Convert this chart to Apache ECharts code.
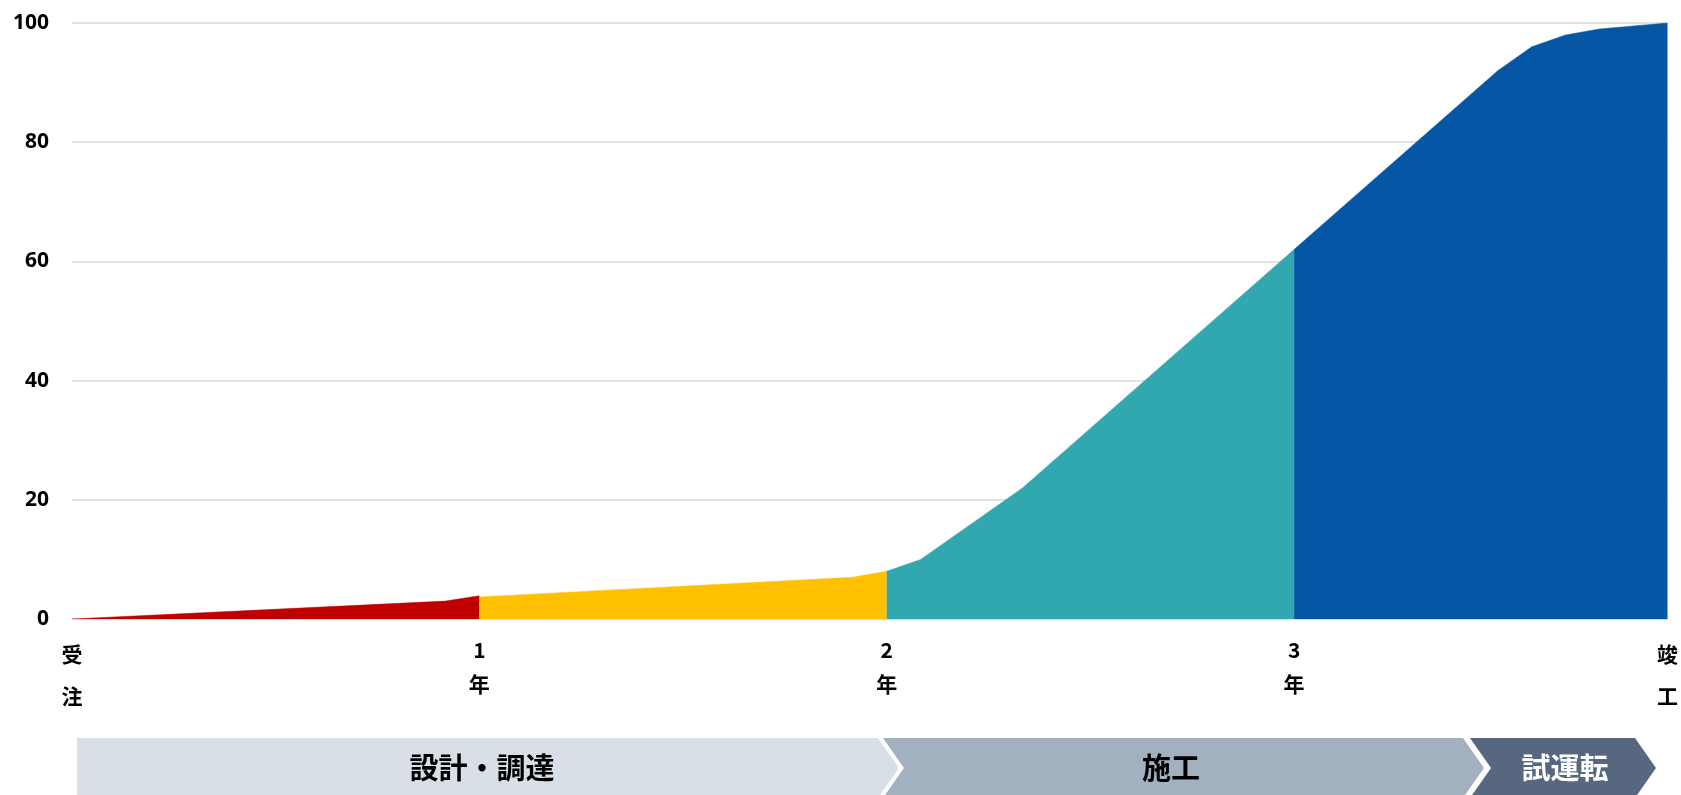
<!DOCTYPE html>
<html>
<head>
<meta charset="utf-8">
<script src="https://cdn.jsdelivr.net/npm/echarts@6/dist/echarts.min.js"></script>
<style>
  html, body { margin: 0; padding: 0; background: #ffffff; }
  #chart { width: 1681px; height: 795px; }
</style>
</head>
<body>
<div id="chart"></div>
<script>
// ---- data (x = months since order, y = cumulative progress %) ----
const redX = [0, 11, 12];
const redY = [0, 3, 3.9];
const yellowX = [12, 23, 24];
const yellowY = [3.7, 7, 8];
const tealX = [24, 25, 28, 36];
const tealY = [8, 10, 22, 62];
const blueX = [36, 42, 43, 44, 45, 47];
const blueY = [62, 92, 96, 98, 99, 100];

const tickValues = [0, 12, 24, 36, 47];
const tickLabels = ['受\n注', '1\n年', '2\n年', '3\n年', '竣\n工'];
const phaseNames = ['設計・調達', '施工', '試運転'];

const colors = ['#C00000', '#FFC000', '#31A8B0', '#0556A5'];
const phaseColors = ['#D9DFE7', '#A2B0C0', '#56677F'];
const phaseTextColors = ['#000000', '#000000', '#ffffff'];

function pairs(xs, ys) { return xs.map((x, i) => [x, ys[i]]); }

const chart = echarts.init(document.getElementById('chart'), null, { renderer: 'canvas' });

function areaSeries(xs, ys, color) {
  return {
    type: 'line',
    data: pairs(xs, ys),
    symbol: 'none',
    lineStyle: { width: 0.5, color: color },
    areaStyle: { color: color, opacity: 1 },
    itemStyle: { color: color },
    animation: false,
    silent: true
  };
}

// phase band geometry (layout)
const bandTop = 738, bandMid = 768, bandBot = 798;
const segs = [
  { x0: 77, x1: 878, notch: false, tx: 482 },
  { x0: 883, x1: 1463, notch: true, tx: 1171 },
  { x0: 1470, x1: 1635, notch: true, tx: 1565 }
];
const tip = 21;
const graphics = [];
segs.forEach((s, i) => {
  const pts = [[s.x0, bandTop], [s.x1, bandTop], [s.x1 + tip, bandMid], [s.x1, bandBot], [s.x0, bandBot]];
  if (s.notch) pts.push([s.x0 + tip, bandMid]);
  graphics.push({
    type: 'polygon',
    shape: { points: pts },
    style: { fill: phaseColors[i] },
    silent: true
  });
  graphics.push({
    type: 'text',
    x: s.tx,
    y: bandMid,
    style: {
      text: phaseNames[i],
      fill: phaseTextColors[i],
      font: 'bold 29px "Noto Sans CJK JP", sans-serif',
      textAlign: 'center',
      textVerticalAlign: 'middle'
    },
    silent: true
  });
});

const option = {
  animation: false,
  backgroundColor: '#ffffff',
  grid: { left: 72, right: 13, top: 23, bottom: 176 },
  xAxis: {
    type: 'value',
    min: 0,
    max: 47,
    axisLine: { show: true, lineStyle: { color: '#D9D9D9', width: 1.5 } },
    axisTick: { show: false },
    splitLine: { show: false },
    axisLabel: {
      customValues: tickValues,
      margin: 14,
      formatter: function (v) {
        const i = tickValues.indexOf(v);
        if (i < 0) return '';
        const parts = tickLabels[i].split('\n');
        const style = (i === 0 || i === tickValues.length - 1) ? 'k' : 'y';
        return parts.map(p => '{' + style + '|' + p + '}').join('\n');
      },
      rich: {
        k: { fontSize: 21, fontWeight: 'bold', color: '#000', lineHeight: 42, fontFamily: '"Noto Sans CJK JP", sans-serif' },
        y: { fontSize: 21, fontWeight: 'bold', color: '#000', lineHeight: 34, fontFamily: '"Noto Sans CJK JP", sans-serif' }
      }
    }
  },
  yAxis: {
    type: 'value',
    min: 0,
    max: 100,
    interval: 20,
    axisLine: { show: false },
    axisTick: { show: false },
    splitLine: { show: true, lineStyle: { color: '#D9D9D9', width: 1.5 } },
    axisLabel: {
      margin: 23,
      fontSize: 21,
      fontWeight: 'bold',
      color: '#000',
      fontFamily: '"Noto Sans", sans-serif'
    }
  },
  series: [
    areaSeries(redX, redY, colors[0]),
    areaSeries(yellowX, yellowY, colors[1]),
    areaSeries(tealX, tealY, colors[2]),
    areaSeries(blueX, blueY, colors[3])
  ],
  graphic: graphics
};

chart.setOption(option);
</script>
</body>
</html>
